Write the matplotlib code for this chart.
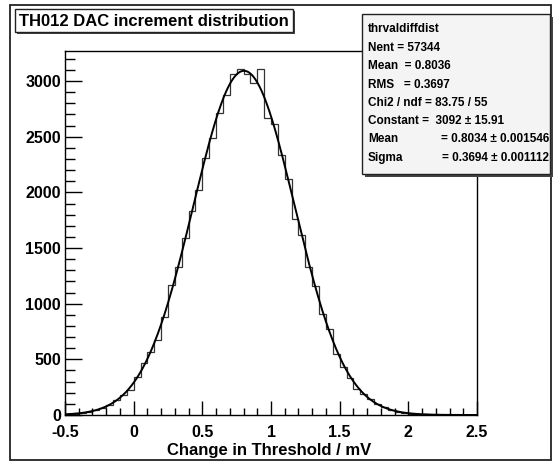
import numpy as np
import matplotlib
matplotlib.use("Agg")
import matplotlib.pyplot as plt
from matplotlib.patches import Rectangle
from matplotlib.ticker import MultipleLocator

W, H = 555, 462

# histogram: 60 bins of 0.05 mV from -0.5 to 2.5
x_lo, x_hi = -0.5, 2.5
counts = [
    8, 12, 20, 28, 45, 62, 90, 138, 178, 228,
    344, 471, 563, 674, 878, 1166, 1327, 1593, 1833, 2022,
    2308, 2489, 2714, 2875, 3061, 3110, 3062, 2980, 3108, 2666,
    2610, 2340, 2118, 1758, 1617, 1333, 1156, 907, 771, 548,
    434, 332, 238, 186, 141, 95, 70, 45, 31, 19,
    12, 9, 5, 3, 2, 1, 1, 0, 1, 0,
]

# gaussian fit parameters (from the stats box)
fit_const = 3092
fit_mean = 0.8034
fit_sigma = 0.3694

title = "TH012 DAC increment distribution"
xlabel = "Change in Threshold / mV"

# stats box lines: plain lines, then fit lines (key left, value right)
stats_name = "thrvaldiffdist"
stats_lines = [
    "Nent = 57344",
    "Mean  = 0.8036",
    "RMS   = 0.3697",
    "Chi2 / ndf = 83.75 / 55",
    "Constant =  3092 \u00b1 15.91",
]
fit_rows = [
    ("Mean", "= 0.8034 \u00b1 0.001546"),
    ("Sigma", "= 0.3694 \u00b1 0.001112"),
]

plt.rcParams["font.family"] = ["Liberation Sans", "DejaVu Sans"]
plt.rcParams["font.weight"] = "bold"

fig = plt.figure(figsize=(W / 100, H / 100), dpi=100)
fig.patch.set_facecolor("white")


def frac(x0, y0, x1, y1):
    return [x0 / W, 1 - y1 / H, (x1 - x0) / W, (y1 - y0) / H]


# main frame
fl, fr, ft, fb = 65, 477, 51, 415
ax = fig.add_axes(frac(fl, ft, fr, fb))
edges = np.linspace(x_lo, x_hi, len(counts) + 1)
ax.stairs(counts, edges, color="#333333", lw=0.9)

xs = np.linspace(x_lo, x_hi, 600)
ax.plot(xs, fit_const * np.exp(-0.5 * ((xs - fit_mean) / fit_sigma) ** 2),
        color="black", lw=1.4)

ax.set_xlim(x_lo, x_hi)
ax.set_ylim(0, 3270)
ax.xaxis.set_major_locator(MultipleLocator(0.5))
ax.xaxis.set_minor_locator(MultipleLocator(0.1))
ax.yaxis.set_major_locator(MultipleLocator(500))
ax.yaxis.set_minor_locator(MultipleLocator(100))
ax.set_xticks([-0.5, 0, 0.5, 1, 1.5, 2, 2.5])
ax.set_xticklabels(["-0.5", "0", "0.5", "1", "1.5", "2", "2.5"])
ax.tick_params(axis="x", which="major", direction="in", length=10, width=1,
               labelsize=11.5, pad=7)
ax.tick_params(axis="x", which="minor", direction="in", length=5, width=1)
ax.tick_params(axis="y", which="major", direction="in", length=12, width=1,
               labelsize=11.5, pad=3)
ax.tick_params(axis="y", which="minor", direction="in", length=7, width=1)
for lab in ax.get_xticklabels() + ax.get_yticklabels():
    lab.set_fontweight("bold")
for sp in ax.spines.values():
    sp.set_linewidth(1)

fig.text(269 / W, 1 - 450 / H, xlabel, ha="center", va="center",
         fontsize=12, fontweight="bold")

# overlay in pixel coordinates for pad border, title and stats box
ov = fig.add_axes([0, 0, 1, 1])
ov.set_xlim(0, W)
ov.set_ylim(H, 0)
ov.axis("off")
ov.patch.set_alpha(0)

ov.add_patch(Rectangle((10, 5), 541, 455, fill=False, ec="#222222", lw=1.3))

# title box with shadow
ov.add_patch(Rectangle((17, 11), 278, 23, fc="#444444", ec="none"))
ov.add_patch(Rectangle((15, 9), 278, 23, fc="white", ec="#222222", lw=1))
ov.text(19, 21, title, ha="left", va="center", fontsize=12, fontweight="bold")

# stats box with shadow
bx0, by0, bx1, by1 = 362, 14, 550, 174
ov.add_patch(Rectangle((bx0 + 3, by0 + 3), bx1 - bx0, by1 - by0, fc="#444444", ec="none"))
ov.add_patch(Rectangle((bx0, by0), bx1 - bx0, by1 - by0, fc="#f4f4f4", ec="#222222", lw=1))
ov.text(368, 29, stats_name, ha="left", va="center", fontsize=8.5, fontweight="bold")
step = 18.3
for i, line in enumerate(stats_lines):
    ov.text(368, 48 + i * step, line, ha="left", va="center", fontsize=8.5,
            fontweight="bold")
for j, (key, rest) in enumerate(fit_rows):
    y = 48 + (len(stats_lines) + j) * step
    ov.text(368, y, key, ha="left", va="center", fontsize=8.5, fontweight="bold")
    ov.text(bx1 - 1, y, rest, ha="right", va="center", fontsize=8.5, fontweight="bold")

fig.savefig("out.png", dpi=100)
